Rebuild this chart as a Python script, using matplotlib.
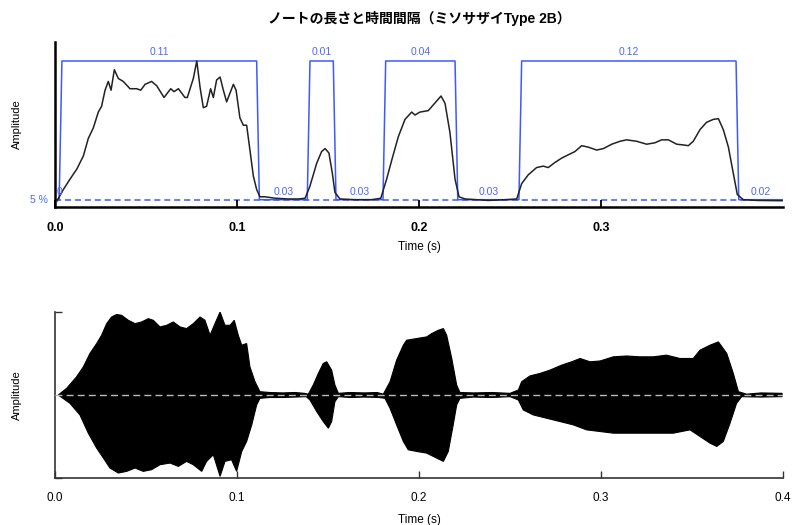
import matplotlib
matplotlib.use('Agg')
import matplotlib.pyplot as plt
import numpy as np

plt.rcParams['font.family'] = ['Liberation Sans', 'Noto Sans CJK JP', 'DejaVu Sans']

# 振幅エンベロープ（最大値=1で正規化）
env_t = [0.0010, 0.0046, 0.0082, 0.0120, 0.0156, 0.0183, 0.0210, 0.0238, 0.0256, 0.0275,
         0.0293, 0.0308, 0.0326, 0.0348, 0.0375, 0.0412, 0.0449, 0.0471, 0.0495, 0.0531,
         0.0559, 0.0599, 0.0636, 0.0654, 0.0678, 0.0714, 0.0727, 0.0760, 0.0779, 0.0797,
         0.0815, 0.0833, 0.0855, 0.0870, 0.0888, 0.0907, 0.0925, 0.0943, 0.0980, 0.0995,
         0.1016, 0.1035, 0.1053, 0.1071, 0.1090, 0.1108, 0.1126, 0.1154, 0.1210, 0.1280,
         0.1340, 0.1374, 0.1400, 0.1438, 0.1465, 0.1484, 0.1505, 0.1524, 0.1538, 0.1566,
         0.1648, 0.1740, 0.1790, 0.1822, 0.1850, 0.1886, 0.1923, 0.1960, 0.1978, 0.2005,
         0.2051, 0.2079, 0.2121, 0.2143, 0.2170, 0.2198, 0.2220, 0.2253, 0.2380, 0.2473,
         0.2537, 0.2564, 0.2600, 0.2646, 0.2683, 0.2710, 0.2747, 0.2784, 0.2857, 0.2894,
         0.2930, 0.2976, 0.3013, 0.3059, 0.3104, 0.3141, 0.3196, 0.3251, 0.3297, 0.3333,
         0.3370, 0.3416, 0.3452, 0.3480, 0.3507, 0.3544, 0.3580, 0.3617, 0.3645, 0.3672,
         0.3700, 0.3727, 0.3749, 0.3782, 0.3855, 0.3920, 0.3995]
env_v = [0.04, 0.12, 0.19, 0.26, 0.35, 0.47, 0.54, 0.65, 0.69, 0.80,
         0.86, 0.80, 0.94, 0.88, 0.86, 0.81, 0.81, 0.80, 0.84, 0.86,
         0.83, 0.75, 0.81, 0.79, 0.81, 0.75, 0.75, 0.88, 1.00, 0.82,
         0.68, 0.69, 0.81, 0.75, 0.87, 0.89, 0.80, 0.72, 0.84, 0.80,
         0.61, 0.56, 0.56, 0.39, 0.21, 0.12, 0.07, 0.07, 0.06, 0.055,
         0.055, 0.06, 0.14, 0.30, 0.38, 0.40, 0.37, 0.23, 0.10, 0.055,
         0.05, 0.05, 0.06, 0.19, 0.32, 0.48, 0.60, 0.65, 0.63, 0.65,
         0.66, 0.70, 0.76, 0.71, 0.51, 0.19, 0.07, 0.055, 0.045, 0.05,
         0.055, 0.16, 0.22, 0.27, 0.28, 0.27, 0.305, 0.335, 0.38, 0.42,
         0.41, 0.39, 0.40, 0.43, 0.45, 0.46, 0.45, 0.43, 0.44, 0.46,
         0.46, 0.43, 0.425, 0.42, 0.45, 0.53, 0.58, 0.60, 0.605, 0.53,
         0.41, 0.23, 0.085, 0.05, 0.045, 0.044, 0.043]

# ノートの開始・終了時刻 (s)
note_on = [0.0038, 0.1401, 0.1817, 0.2564]
note_off = [0.1108, 0.1529, 0.2198, 0.3742]
ramp = 0.0015
threshold = 0.05
t_end = 0.3995

# 波形の上側・下側の包絡
wave_hi_t = [0.0018, 0.0064, 0.0119, 0.0156, 0.0192, 0.0229, 0.0256, 0.0284, 0.0311, 0.0339,
             0.0366, 0.0403, 0.0440, 0.0476, 0.0513, 0.0540, 0.0577, 0.0614, 0.0650, 0.0687,
             0.0723, 0.0760, 0.0797, 0.0824, 0.0852, 0.0879, 0.0907, 0.0934, 0.0962, 0.0985,
             0.1007, 0.1026, 0.1053, 0.1071, 0.1099, 0.1126, 0.1180, 0.1250, 0.1320, 0.1370,
             0.1392, 0.1419, 0.1447, 0.1474, 0.1493, 0.1520, 0.1538, 0.1557, 0.1620, 0.1700,
             0.1770, 0.1804, 0.1841, 0.1877, 0.1914, 0.1932, 0.1987, 0.2042, 0.2070, 0.2106,
             0.2134, 0.2152, 0.2180, 0.2207, 0.2225, 0.2300, 0.2400, 0.2500, 0.2546, 0.2564,
             0.2610, 0.2665, 0.2720, 0.2784, 0.2839, 0.2885, 0.2940, 0.2995, 0.3068, 0.3141,
             0.3214, 0.3287, 0.3360, 0.3434, 0.3507, 0.3544, 0.3599, 0.3645, 0.3691, 0.3727,
             0.3755, 0.3800, 0.3880, 0.3995]
wave_hi = [0.00, 0.08, 0.22, 0.34, 0.50, 0.62, 0.72, 0.86, 0.94, 0.97,
           0.96, 0.90, 0.86, 0.88, 0.92, 0.90, 0.82, 0.84, 0.88, 0.82,
           0.80, 0.86, 0.94, 0.90, 0.72, 0.86, 1.00, 0.84, 0.84, 0.90,
           0.72, 0.60, 0.62, 0.34, 0.16, 0.04, 0.03, 0.025, 0.03, 0.02,
           0.01, 0.12, 0.26, 0.38, 0.40, 0.30, 0.12, 0.02, 0.03, 0.025,
           0.03, 0.01, 0.16, 0.42, 0.60, 0.66, 0.68, 0.70, 0.74, 0.78,
           0.80, 0.72, 0.44, 0.12, 0.03, 0.025, 0.03, 0.02, 0.06, 0.16,
           0.23, 0.26, 0.30, 0.36, 0.40, 0.44, 0.40, 0.41, 0.46, 0.47,
           0.46, 0.46, 0.48, 0.44, 0.44, 0.54, 0.60, 0.64, 0.50, 0.26,
           0.04, 0.01, 0.025, 0.02]
wave_lo_t = [0.0018, 0.0082, 0.0137, 0.0183, 0.0229, 0.0266, 0.0302, 0.0348, 0.0394, 0.0440,
             0.0485, 0.0531, 0.0577, 0.0632, 0.0678, 0.0723, 0.0760, 0.0806, 0.0833, 0.0870,
             0.0907, 0.0934, 0.0970, 0.0998, 0.1026, 0.1053, 0.1081, 0.1108, 0.1126, 0.1180,
             0.1250, 0.1320, 0.1380, 0.1401, 0.1438, 0.1474, 0.1502, 0.1520, 0.1538, 0.1557,
             0.1620, 0.1700, 0.1780, 0.1813, 0.1841, 0.1877, 0.1914, 0.1941, 0.1987, 0.2042,
             0.2097, 0.2134, 0.2161, 0.2188, 0.2207, 0.2225, 0.2300, 0.2400, 0.2500, 0.2546,
             0.2573, 0.2628, 0.2701, 0.2775, 0.2848, 0.2921, 0.2995, 0.3068, 0.3178, 0.3287,
             0.3397, 0.3489, 0.3544, 0.3599, 0.3636, 0.3672, 0.3709, 0.3745, 0.3773, 0.3880,
             0.3995]
wave_lo = [0.00, -0.10, -0.24, -0.46, -0.64, -0.76, -0.88, -0.94, -0.92, -0.88,
           -0.92, -0.90, -0.84, -0.82, -0.86, -0.80, -0.84, -0.92, -0.80, -0.72,
           -0.98, -0.80, -0.78, -0.92, -0.68, -0.56, -0.36, -0.12, -0.04, -0.03,
           -0.03, -0.025, -0.02, -0.06, -0.20, -0.32, -0.40, -0.32, -0.08, -0.02,
           -0.03, -0.025, -0.03, -0.04, -0.16, -0.36, -0.56, -0.66, -0.68, -0.70,
           -0.76, -0.80, -0.68, -0.36, -0.12, -0.04, -0.025, -0.03, -0.02, -0.06,
           -0.18, -0.24, -0.28, -0.32, -0.36, -0.42, -0.44, -0.46, -0.46, -0.46,
           -0.46, -0.42, -0.50, -0.58, -0.62, -0.56, -0.34, -0.10, -0.02, -0.025,
           -0.02]

blue = '#3c5aff'
label_blue = '#5066ff'

fig = plt.figure(figsize=(7.93, 5.25), dpi=100)
ax1 = fig.add_axes([55 / 793, 1 - 207 / 525, 728 / 793, 165 / 525])
ax2 = fig.add_axes([55 / 793, 1 - 478 / 525, 728 / 793, 166 / 525])

# --- 上段: エンベロープとノート区間 ---
ax1.plot(env_t, env_v, color='#222222', lw=1.1, zorder=3)

# ノート区間の矩形
seg_t = [0.0]
seg_v = [threshold]
for on, off in zip(note_on, note_off):
    seg_t += [on - ramp, on, off, off + ramp]
    seg_v += [threshold, 1.0, 1.0, threshold]
seg_t.append(t_end)
seg_v.append(threshold)
ax1.plot(seg_t, seg_v, color=blue, lw=1.1, zorder=2)
ax1.axhline(threshold, color=blue, lw=1.1, ls=(0, (4, 2.5)), zorder=1)

# ノートの長さ
for on, off in zip(note_on, note_off):
    ax1.text((on + off) / 2, 1.06, '%g' % round(off - on, 2), color=label_blue,
             fontsize=7.5, ha='center', va='center', zorder=5)

# 間隔
starts = [0.0] + [off + ramp for off in note_off]
ends = [on - ramp for on in note_on] + [t_end]
for a, b in zip(starts, ends):
    ax1.text(max((a + b) / 2, 0.0025), 0.10, '%g' % round(b - a, 2), color=label_blue,
             fontsize=7.5, ha='center', va='center', zorder=5, clip_on=False)

ax1.text(-0.004, threshold, '5 %', color=label_blue, fontsize=7.5, ha='right', va='center',
         clip_on=False)

ax1.set_xlim(0, 0.4)
ax1.set_ylim(0, 1.13)
ax1.set_xticks([0.0, 0.1, 0.2, 0.3])
ax1.set_xticklabels(['0.0', '0.1', '0.2', '0.3'], fontweight='bold')
ax1.set_yticks([])
ax1.tick_params(axis='x', direction='in', length=5, width=1.3, labelsize=9, pad=11)
for s in ['top', 'right']:
    ax1.spines[s].set_visible(False)
for s in ['left', 'bottom']:
    ax1.spines[s].set_linewidth(1.8)
ax1.set_xlabel('Time (s)', fontsize=8.5, labelpad=5)
ax1.set_ylabel('Amplitude', fontsize=8)
ax1.yaxis.set_label_coords(-0.046, 0.5)

# --- 下段: 波形 ---
poly_t = np.concatenate([wave_hi_t, wave_lo_t[::-1]])
poly_v = np.concatenate([wave_hi, wave_lo[::-1]])
ax2.fill(poly_t, poly_v, facecolor='black', edgecolor='black', lw=0.8, zorder=2)
ax2.axhline(0, color='#bbbbbb', lw=1, ls=(0, (5, 3)), zorder=3)

ax2.set_xlim(0, 0.4)
ax2.set_ylim(-1.0, 1.0)
ax2.set_xticks([0.0, 0.1, 0.2, 0.3, 0.4])
ax2.set_xticklabels(['0.0', '0.1', '0.2', '0.3', '0.4'])
ax2.set_yticks([-1.0, 1.0])
ax2.set_yticklabels([])
ax2.tick_params(axis='both', direction='in', length=5, width=1, colors='#333333',
                labelsize=8.5, pad=10)
ax2.tick_params(axis='x', labelcolor='black')
for s in ['top', 'right']:
    ax2.spines[s].set_visible(False)
for s in ['left', 'bottom']:
    ax2.spines[s].set_linewidth(1.2)
    ax2.spines[s].set_color('#333333')
ax2.set_xlabel('Time (s)', fontsize=8.5, labelpad=7)
ax2.set_ylabel('Amplitude', fontsize=8)
ax2.yaxis.set_label_coords(-0.046, 0.5)

fig.text(419 / 793, 1 - 18 / 525, 'ノートの長さと時間間隔（ミソサザイType 2B）',
         ha='center', va='center', fontsize=10, fontweight='bold',
         family=['Liberation Sans', 'Noto Sans CJK JP'])

fig.savefig('out.png', dpi=100)
